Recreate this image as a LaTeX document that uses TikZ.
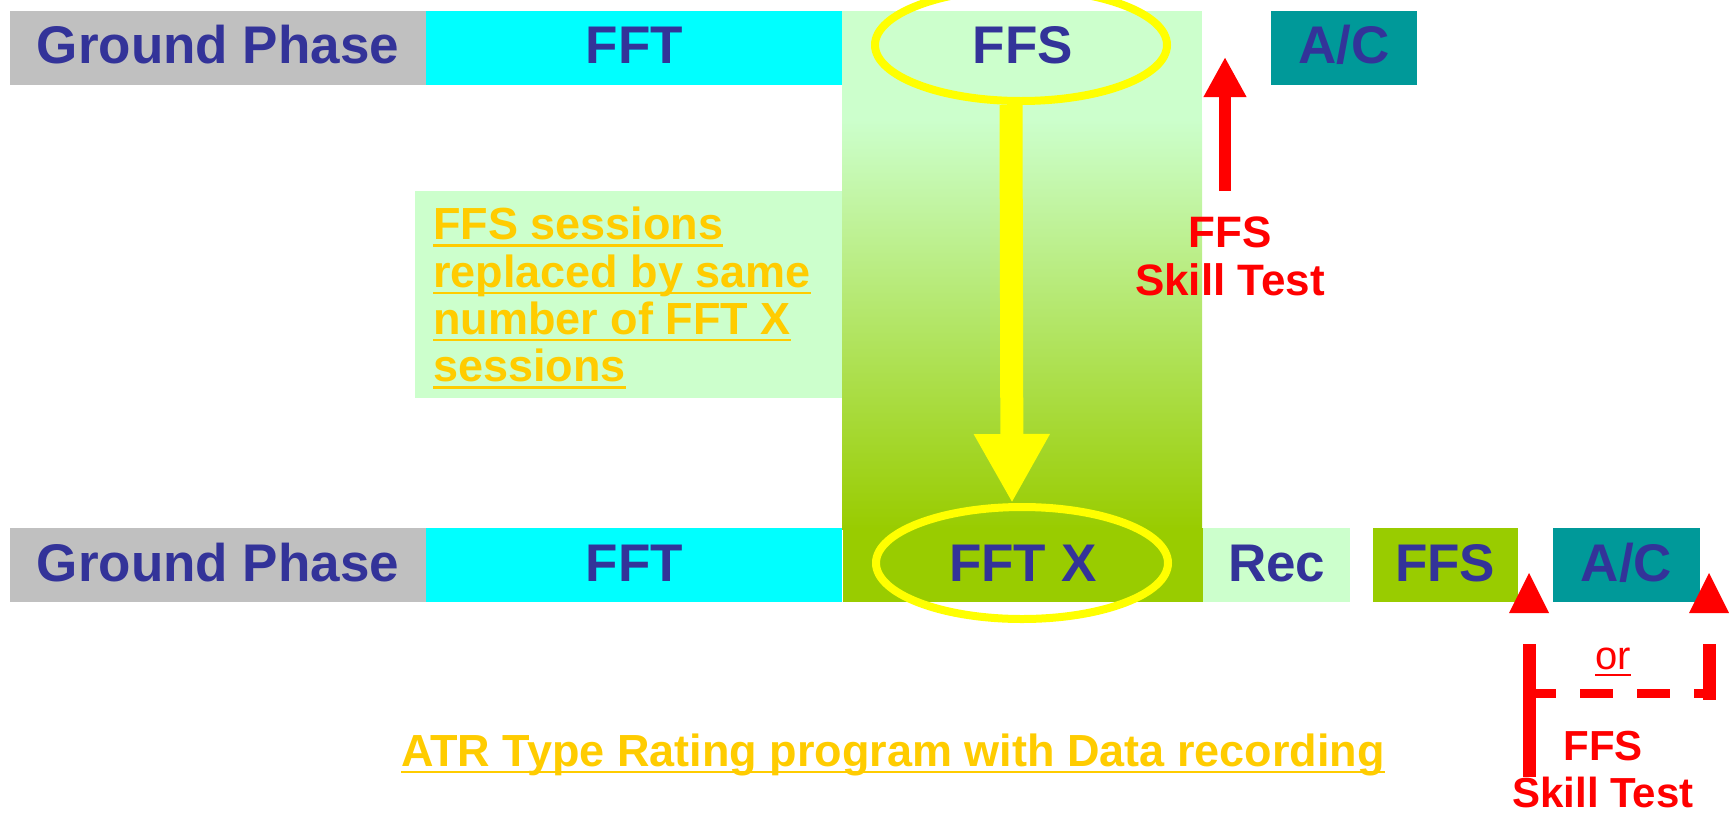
\documentclass[tikz,border=0pt]{standalone}
\usepackage{fontspec}
\setmainfont{Liberation Sans}
\usepackage{tikz}
\usetikzlibrary{shapes.geometric,arrows.meta,positioning}
\definecolor{phaseBlue}{HTML}{333399}
\definecolor{phaseGrey}{HTML}{C0C0C0}
\definecolor{fftCyan}{HTML}{00FFFF}
\definecolor{paleGreen}{HTML}{CCFFCC}
\definecolor{midGreen}{HTML}{B2E28C}
\definecolor{oliveGreen}{HTML}{99CC00}
\definecolor{acTeal}{HTML}{009999}
\definecolor{ringYellow}{HTML}{FFFF00}
\definecolor{noteGold}{HTML}{FFCC00}
\definecolor{testRed}{HTML}{FF0000}
\newlength{\ulwd}
\newcommand{\ulbox}[1]{\settowidth{\ulwd}{#1}\rlap{\rule[-7pt]{\ulwd}{2.5pt}}#1}
\tikzset{
    phase-box/.style = {rectangle, minimum height=74pt, inner sep=0pt, text=phaseBlue, font=\fontsize{53}{56}\selectfont\bfseries, text height=37pt, text depth=5pt},
    ring/.style = {draw=ringYellow, line width=8pt, ellipse, minimum width=292pt, minimum height=112pt},
    note-text/.style = {text=noteGold, font=\fontsize{45}{47.3}\selectfont\bfseries, inner sep=0pt},
    test-label/.style = {text=testRed, font=\fontsize{44}{48}\selectfont\bfseries, align=center, inner sep=0pt},
    test-arrow/.style = {draw=testRed, line width=12pt, -{Triangle[length=40pt,width=40pt]}},
    swap-arrow/.style = {draw=ringYellow, line width=23pt, -{Triangle[length=69pt,width=71pt]}},
    bracket-line/.style = {draw=testRed, line width=13pt},
}

\begin{document}
\begin{tikzpicture}[x=1pt,y=-1pt]
\useasboundingbox (0,0) rectangle (1729,817);
\fill[paleGreen] (842,10.5) rectangle (1202,121);
\shade[top color=paleGreen, middle color=midGreen, bottom color=oliveGreen] (842,120) rectangle (1202,529);

\node[fill=paleGreen, anchor=north west, minimum width=427pt, minimum height=207pt, inner sep=0pt] (note-box) at (415,191) {};
\node[note-text, align=left, anchor=north west] (note) at (433,207) {\ulbox{FFS sessions}\\
    \ulbox{replaced by same}\\
    \ulbox{number of FFT X}\\
    \ulbox{sessions}};

\node[phase-box, fill=phaseGrey, minimum width=416pt] (ground-top) at (218,47.5) {Ground Phase};
\node[phase-box, fill=fftCyan, minimum width=416pt, right=0pt of ground-top] (fft-top) {FFT};
\node[phase-box, minimum width=360pt, right=0pt of fft-top] (ffs-top) {FFS};
\node[phase-box, fill=acTeal, minimum width=146pt, right=68pt of ffs-top] (ac-top) {A/C};

\node[phase-box, fill=phaseGrey, minimum width=416pt] (ground-bot) at (218,565) {Ground Phase};
\node[phase-box, fill=fftCyan, minimum width=416pt, right=0pt of ground-bot] (fft-bot) {FFT};
\node[phase-box, fill=oliveGreen, minimum width=360pt, right=0pt of fft-bot] (fftx-bot) {FFT X};
\node[phase-box, fill=paleGreen, minimum width=147pt, right=0pt of fftx-bot] (rec-bot) {Rec};
\node[phase-box, fill=oliveGreen, minimum width=145pt, right=22pt of rec-bot] (ffs-bot) {FFS};
\node[phase-box, fill=acTeal, minimum width=147pt, right=35pt of ffs-bot] (ac-bot) {A/C};

\node[ring] (ffs-ring) at (1021,45) {};
\node[ring] (fftx-ring) at (1022,563) {};
\draw[swap-arrow] ([xshift=-10pt]ffs-ring.south) -- ([xshift=-10pt]fftx-ring.north);

\coordinate (test-foot) at (1225,191);
\coordinate (test-tip) at (1225,57);
\draw[test-arrow] (test-foot) -- (test-tip);
\node[test-label, anchor=north] (skill-top) at (1230,217) {FFS\\Skill Test};

\foreach \x in {1529,1709}
    \fill[testRed] (\x-20,613) -- (\x+20,613) -- (\x,573) -- cycle;
\draw[bracket-line] (1529,644) -- (1529,777);
\draw[bracket-line] (1709,644) -- (1709,700);
\draw[testRed, line width=9pt, dash pattern=on 33pt off 24pt] (1523,693) -- (1716,693);
\node[text=testRed, font=\fontsize{40}{44}\selectfont, inner sep=0pt, anchor=base] (or-text) at (1613,669) {\ulbox{or}};
\node[test-label, font=\fontsize{42}{47}\selectfont\bfseries, anchor=north] (skill-bot) at (1603,731) {FFS\\Skill Test};

\node[note-text, anchor=base] (title) at (893,766) {\ulbox{ATR Type Rating program with Data recording}};
\end{tikzpicture}
\end{document}
